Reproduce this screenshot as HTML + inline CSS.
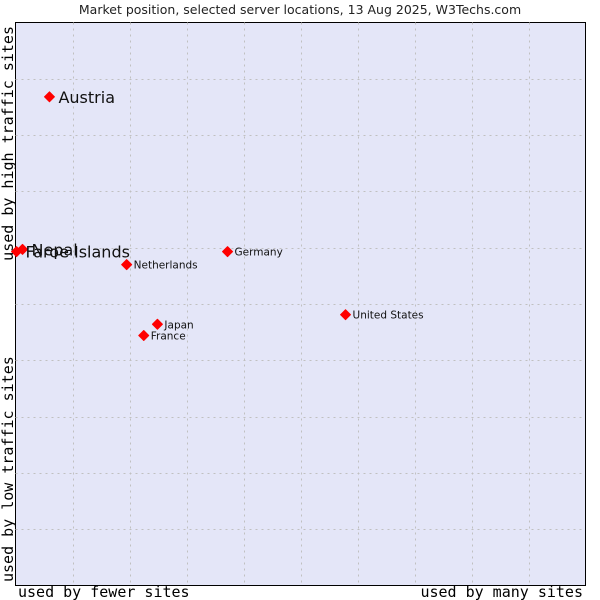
<!DOCTYPE html>
<html><head><meta charset="utf-8"><style>
body{margin:0;background:#fff;width:600px;height:600px;overflow:hidden}
svg{display:block}
</style></head><body>
<svg id="chart" width="600" height="600" xmlns="http://www.w3.org/2000/svg">
<text x="300" y="14" text-anchor="middle" font-family="DejaVu Sans, sans-serif" font-size="12.5" fill="#222">Market position, selected server locations, 13 Aug 2025, W3Techs.com</text>
<rect x="15.5" y="22.5" width="570" height="563" fill="#e4e6f8" stroke="#000" stroke-width="1"/>
<g id="grid"></g>
<g id="marks"></g>
<text x="18" y="597" font-family="DejaVu Sans Mono, monospace" font-size="15" fill="#000">used by fewer sites</text>
<text x="583" y="597" text-anchor="end" font-family="DejaVu Sans Mono, monospace" font-size="15" fill="#000">used by many sites</text>
<text transform="translate(13,582) rotate(-90)" font-family="DejaVu Sans Mono, monospace" font-size="15" fill="#000">used by low traffic sites</text>
<text transform="translate(13,26) rotate(-90)" text-anchor="end" font-family="DejaVu Sans Mono, monospace" font-size="15" fill="#000">used by high traffic sites</text>
</svg>
<script>
const names=["Austria","Nepal","Faroe Islands","Netherlands","Germany","United States","Japan","France"];
const xVals=[5.96,1.23,0.18,19.5,37.2,57.9,24.9,22.5];
const yVals=[86.8,59.7,59.3,57.0,59.3,48.1,46.4,44.4];
const labelSizes=[16,16,16,10.5,10.5,10.5,10.5,10.5];
const gridSteps=[10,20,30,40,50,60,70,80,90];
const X0=15.5,X1=585.5,Y0=585.5,Y1=22.5;
const sx=v=>X0+(X1-X0)*v/100, sy=v=>Y0-(Y0-Y1)*v/100;
const NS="http://www.w3.org/2000/svg";
const grid=document.getElementById('grid'), marks=document.getElementById('marks');
gridSteps.forEach(g=>{
  const v=document.createElementNS(NS,'line');
  
  
  v.setAttribute('x1',Math.round(sx(g))+0.5);v.setAttribute('x2',Math.round(sx(g))+0.5);
  v.setAttribute('y1',Y1);v.setAttribute('y2',Y0);
  v.setAttribute('stroke','#c0c0c0');v.setAttribute('stroke-dasharray','2,4');
  grid.appendChild(v);
  const h=document.createElementNS(NS,'line');
  
  
  h.setAttribute('y1',Math.round(sy(g))+0.5);h.setAttribute('y2',Math.round(sy(g))+0.5);
  h.setAttribute('x1',X0);h.setAttribute('x2',X1);
  h.setAttribute('stroke','#c0c0c0');h.setAttribute('stroke-dasharray','2,4');
  grid.appendChild(h);
});
names.forEach((n,i)=>{
  const x=sx(xVals[i]),y=sy(yVals[i]);
  const p=document.createElementNS(NS,'path');
  
  
  p.setAttribute('d',`M${x-5},${y}L${x},${y-5}L${x+5},${y}L${x},${y+5}Z`);
  p.setAttribute('fill','#f00');
  p.setAttribute('stroke','#f00');
  p.setAttribute('stroke-width','1');
  p.setAttribute('stroke-linejoin','round');
  marks.appendChild(p);
  const t=document.createElementNS(NS,'text');
  
  
  t.setAttribute('x',x+(labelSizes[i]>12?9:7));
  t.setAttribute('y',y+(labelSizes[i]>12?6:4));
  t.setAttribute('font-family','DejaVu Sans, sans-serif');
  t.setAttribute('font-size',labelSizes[i]);
  t.setAttribute('fill','#111');
  t.textContent=n;
  marks.appendChild(t);
});
</script>
</body></html>
